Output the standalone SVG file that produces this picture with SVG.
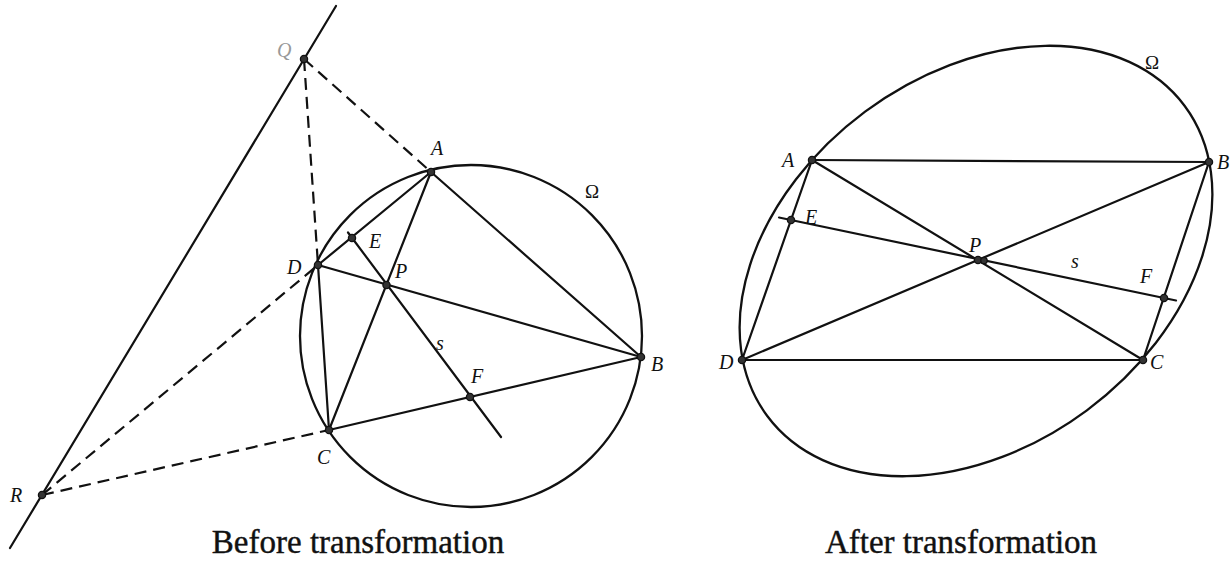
<svg xmlns="http://www.w3.org/2000/svg" width="1232" height="565" viewBox="0 0 1232 565">
<style>
.ln{stroke:#111;stroke-width:2.2;fill:none;stroke-linecap:round}
.dash{stroke:#111;stroke-width:2.2;fill:none;stroke-dasharray:12 7}
.curve{stroke:#111;stroke-width:2.3;fill:none}
.pt{fill:#333;stroke:#111;stroke-width:1.3}
.lbl{font-family:"Liberation Serif","DejaVu Serif",serif;font-style:italic;font-size:20px;fill:#111}
.om{font-family:"Liberation Serif","DejaVu Serif",serif;font-size:19px;fill:#111}
.cap{font-family:"Liberation Serif","DejaVu Serif",serif;font-size:33px;fill:#111;stroke:#111;stroke-width:0.4;text-anchor:middle}
</style>
<rect width="1232" height="565" fill="#fff"/>

<!-- LEFT: before transformation -->
<g id="omega-left">
  <circle class="curve" cx="471" cy="336" r="171"/>
  <text class="om" x="585" y="198">Ω</text>
</g>
<g id="connectors-left">
  <line class="ln" x1="336" y1="6" x2="10" y2="548"/>
  <line class="dash" x1="304" y1="59" x2="431" y2="172"/>
  <line class="dash" x1="304" y1="59" x2="318" y2="265"/>
  <line class="dash" x1="42" y1="495" x2="318" y2="265"/>
  <line class="dash" x1="42" y1="495" x2="329" y2="430"/>
  <line class="ln" x1="431" y1="172" x2="641" y2="357"/>
  <line class="ln" x1="431" y1="172" x2="318" y2="265"/>
  <line class="ln" x1="318" y1="265" x2="329" y2="430"/>
  <line class="ln" x1="329" y1="430" x2="641" y2="357"/>
  <line class="ln" x1="431" y1="172" x2="329" y2="430"/>
  <line class="ln" x1="318" y1="265" x2="641" y2="357"/>
  <line class="ln" x1="348" y1="232.5" x2="501" y2="437"/>
</g>
<g id="L-Q"><circle class="pt" cx="304" cy="59" r="3.6"/><text class="lbl" x="277" y="57" style="fill:#999">Q</text></g>
<g id="L-R"><circle class="pt" cx="42" cy="495" r="3.6"/><text class="lbl" x="10" y="502">R</text></g>
<g id="L-A"><circle class="pt" cx="431" cy="172" r="3.6"/><text class="lbl" x="431" y="155">A</text></g>
<g id="L-B"><circle class="pt" cx="641" cy="357" r="3.6"/><text class="lbl" x="651" y="371">B</text></g>
<g id="L-C"><circle class="pt" cx="329" cy="430" r="3.6"/><text class="lbl" x="317" y="464">C</text></g>
<g id="L-D"><circle class="pt" cx="318" cy="265" r="3.6"/><text class="lbl" x="287" y="274">D</text></g>
<g id="L-E"><circle class="pt" cx="352" cy="238" r="3.6"/><text class="lbl" x="369" y="248">E</text></g>
<g id="L-P"><circle class="pt" cx="386.5" cy="285" r="3.6"/><text class="lbl" x="395" y="278">P</text></g>
<g id="L-F"><circle class="pt" cx="470" cy="397" r="3.6"/><text class="lbl" x="471" y="383">F</text></g>
<g id="L-s"><text class="lbl" x="436" y="350">s</text></g>
<text class="cap" x="358" y="553">Before transformation</text>

<!-- RIGHT: after transformation -->
<g id="omega-right">
  <ellipse class="curve" cx="976" cy="261" rx="260" ry="186" transform="rotate(-36.6 976 261)"/>
  <text class="om" x="1145" y="69">Ω</text>
</g>
<g id="connectors-right">
  <line class="ln" x1="812" y1="160" x2="1209" y2="162"/>
  <line class="ln" x1="742" y1="360" x2="1143" y2="360"/>
  <line class="ln" x1="812" y1="160" x2="742" y2="360"/>
  <line class="ln" x1="1209" y1="162" x2="1143" y2="360"/>
  <line class="ln" x1="812" y1="160" x2="1143" y2="360"/>
  <line class="ln" x1="1209" y1="162" x2="742" y2="360"/>
  <line class="ln" x1="779" y1="217.5" x2="1176" y2="300.5"/>
</g>
<g id="R-A"><circle class="pt" cx="812" cy="160" r="3.6"/><text class="lbl" x="782" y="167">A</text></g>
<g id="R-B"><circle class="pt" cx="1209" cy="162" r="3.6"/><text class="lbl" x="1217" y="169">B</text></g>
<g id="R-C"><circle class="pt" cx="1143" cy="360" r="3.6"/><text class="lbl" x="1150" y="369">C</text></g>
<g id="R-D"><circle class="pt" cx="742" cy="360" r="3.6"/><text class="lbl" x="719" y="369">D</text></g>
<g id="R-E"><circle class="pt" cx="791" cy="220" r="3.6"/><text class="lbl" x="805" y="224">E</text></g>
<g id="R-P"><circle class="pt" cx="978" cy="260" r="3.6"/><circle class="pt" cx="984" cy="260.5" r="3.2"/><text class="lbl" x="969" y="252">P</text></g>
<g id="R-F"><circle class="pt" cx="1164" cy="298" r="3.6"/><text class="lbl" x="1140" y="283">F</text></g>
<g id="R-s"><text class="lbl" x="1071" y="268">s</text></g>
<text class="cap" x="961" y="553">After transformation</text>
</svg>
